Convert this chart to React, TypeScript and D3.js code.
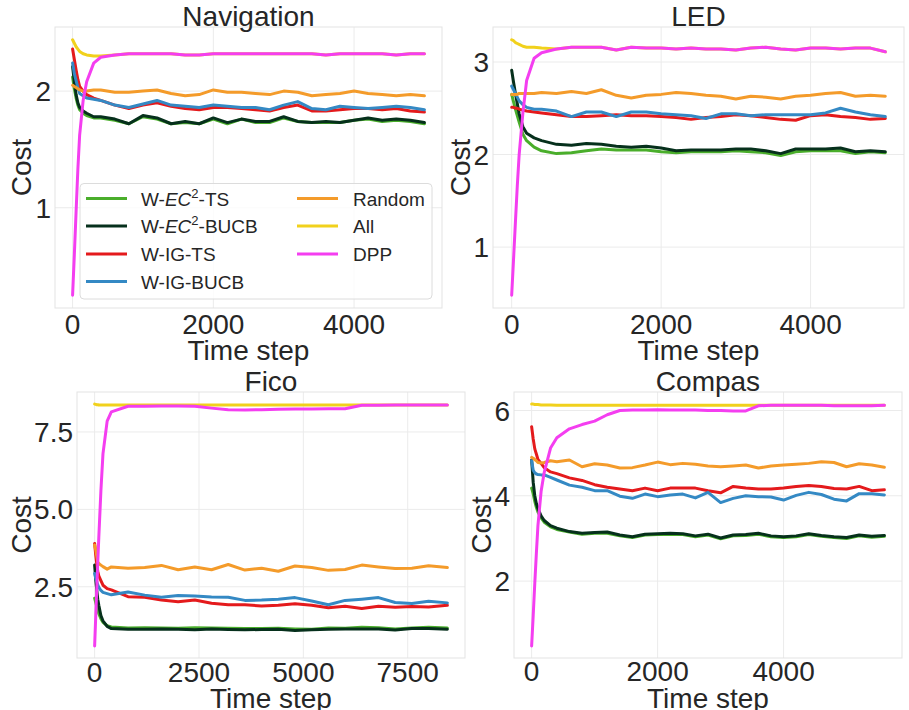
import React from "react";
import * as d3 from "d3";

// ---------- DATA ----------
const SERIES_NAMES = ["W-EC2-TS", "W-EC2-BUCB", "W-IG-TS", "W-IG-BUCB", "Random", "All", "DPP"];
const SERIES_COLORS = ["#4aae2b", "#06301c", "#e41a1c", "#3489c4", "#f49b2a", "#f1d11c", "#f43ef0"];

const PANEL_TITLES = ["Navigation", "LED", "Fico", "Compas"];

// Navigation
const NAV_T = [0,25,50,75,100,150,200,300,400,600,800,1000,1200,1400,1600,1800,2000,2200,2400,2600,2800,3000,3200,3400,3600,3800,4000,4200,4400,4600,4800,5000];
const NAV_EC2_TS = [2.12,2.02,1.94,1.88,1.84,1.81,1.79,1.77,1.77,1.75,1.72,1.78,1.76,1.72,1.73,1.72,1.76,1.72,1.76,1.73,1.73,1.77,1.74,1.73,1.73,1.73,1.75,1.76,1.74,1.75,1.74,1.72];
const NAV_EC2_BUCB = [2.21,2.08,1.97,1.90,1.86,1.83,1.81,1.78,1.78,1.76,1.72,1.79,1.77,1.72,1.74,1.72,1.77,1.73,1.76,1.74,1.74,1.78,1.74,1.73,1.74,1.73,1.75,1.77,1.75,1.76,1.75,1.73];
const NAV_IG_TS = [2.36,2.27,2.18,2.10,2.04,2.00,1.97,1.94,1.92,1.88,1.85,1.88,1.90,1.87,1.85,1.84,1.86,1.86,1.85,1.84,1.83,1.86,1.88,1.83,1.83,1.84,1.85,1.85,1.84,1.85,1.83,1.82];
const NAV_IG_BUCB = [2.24,2.15,2.09,2.03,1.98,1.96,1.94,1.93,1.92,1.88,1.86,1.89,1.92,1.88,1.87,1.86,1.88,1.87,1.86,1.86,1.84,1.88,1.91,1.85,1.84,1.87,1.86,1.85,1.86,1.87,1.86,1.84];
const NAV_RANDOM = [2.05,2.04,2.03,2.02,2.01,2.00,2.00,2.01,2.01,1.99,1.99,2.00,2.01,1.98,1.96,1.97,2.01,1.99,1.99,1.98,1.97,2.00,1.99,1.96,1.97,1.98,2.00,1.98,1.97,1.96,1.97,1.96];
const NAV_ALL = [2.44,2.41,2.38,2.36,2.34,2.32,2.31,2.30,2.30,2.31,2.32,2.32,2.32,2.32,2.31,2.31,2.32,2.32,2.32,2.32,2.32,2.32,2.32,2.32,2.31,2.32,2.32,2.32,2.32,2.31,2.32,2.32];
const NAV_DPP = [0.25,0.60,0.97,1.33,1.62,1.92,2.08,2.24,2.29,2.31,2.32,2.32,2.32,2.32,2.31,2.31,2.32,2.32,2.32,2.32,2.32,2.32,2.32,2.32,2.31,2.32,2.32,2.32,2.32,2.31,2.32,2.32];

// LED
const LED_T = [0,25,50,75,100,150,200,300,400,600,800,1000,1200,1400,1600,1800,2000,2200,2400,2600,2800,3000,3200,3400,3600,3800,4000,4200,4400,4600,4800,5000];
const LED_EC2_TS = [2.65,2.57,2.49,2.42,2.35,2.22,2.15,2.08,2.04,2.01,2.02,2.04,2.06,2.05,2.05,2.05,2.03,2.02,2.03,2.03,2.03,2.04,2.03,2.02,1.99,2.03,2.04,2.04,2.04,2.01,2.03,2.02];
const LED_EC2_BUCB = [2.91,2.78,2.66,2.55,2.44,2.30,2.23,2.18,2.15,2.11,2.10,2.12,2.11,2.09,2.08,2.09,2.07,2.04,2.05,2.05,2.05,2.06,2.06,2.04,2.01,2.06,2.06,2.06,2.07,2.03,2.04,2.03];
const LED_IG_TS = [2.51,2.51,2.50,2.50,2.49,2.48,2.47,2.46,2.45,2.43,2.41,2.41,2.42,2.43,2.42,2.42,2.41,2.40,2.38,2.40,2.41,2.43,2.42,2.40,2.38,2.37,2.42,2.43,2.41,2.40,2.38,2.39];
const LED_IG_BUCB = [2.74,2.70,2.66,2.62,2.58,2.54,2.51,2.49,2.49,2.47,2.41,2.46,2.46,2.41,2.46,2.46,2.44,2.43,2.42,2.39,2.44,2.44,2.42,2.43,2.43,2.43,2.43,2.45,2.50,2.46,2.43,2.41];
const LED_RANDOM = [2.65,2.65,2.65,2.65,2.66,2.66,2.66,2.66,2.67,2.66,2.68,2.66,2.70,2.64,2.61,2.64,2.65,2.67,2.66,2.64,2.63,2.60,2.63,2.62,2.60,2.63,2.64,2.66,2.67,2.63,2.64,2.63];
const LED_ALL = [3.24,3.23,3.21,3.20,3.19,3.17,3.16,3.16,3.15,3.14,3.16,3.16,3.16,3.13,3.16,3.15,3.15,3.14,3.15,3.14,3.14,3.13,3.15,3.16,3.14,3.13,3.15,3.15,3.14,3.15,3.15,3.11];
const LED_DPP = [0.48,0.87,1.27,1.66,2.00,2.45,2.80,3.04,3.10,3.14,3.16,3.16,3.16,3.13,3.16,3.15,3.15,3.14,3.15,3.14,3.14,3.13,3.15,3.16,3.14,3.13,3.15,3.15,3.14,3.15,3.15,3.11];

// Fico
const FICO_T = [0,25,50,75,100,150,200,300,400,800,1200,1600,2000,2400,2800,3200,3600,4000,4400,4800,5200,5600,6000,6400,6800,7200,7600,8000,8450];
const FICO_EC2_TS = [2.13,2.00,1.87,1.74,1.63,1.47,1.35,1.24,1.20,1.17,1.18,1.17,1.16,1.18,1.17,1.16,1.15,1.15,1.16,1.14,1.13,1.17,1.16,1.19,1.18,1.14,1.17,1.19,1.17];
const FICO_EC2_BUCB = [3.20,2.75,2.40,2.10,1.90,1.57,1.40,1.22,1.15,1.13,1.13,1.14,1.13,1.11,1.14,1.12,1.11,1.12,1.13,1.09,1.11,1.13,1.14,1.14,1.14,1.10,1.15,1.15,1.13];
const FICO_IG_TS = [3.90,3.55,3.25,3.00,2.85,2.70,2.55,2.44,2.40,2.18,2.16,2.07,2.02,2.07,1.97,1.92,1.92,1.88,1.90,1.95,1.90,1.82,1.87,1.80,1.87,1.84,1.86,1.85,1.90];
const FICO_IG_BUCB = [2.93,2.78,2.66,2.56,2.48,2.38,2.32,2.28,2.24,2.33,2.23,2.16,2.22,2.20,2.17,2.16,2.06,2.07,2.10,2.15,2.04,1.92,2.06,2.10,2.15,1.99,1.96,2.03,1.98];
const FICO_RANDOM = [3.85,3.70,3.50,3.30,3.25,3.20,3.15,3.07,3.14,3.10,3.12,3.19,3.05,3.14,3.05,3.22,3.04,3.10,3.00,3.17,3.12,3.03,3.06,3.20,3.14,3.09,3.10,3.18,3.12];
const FICO_ALL = [8.40,8.39,8.38,8.38,8.37,8.37,8.37,8.37,8.37,8.37,8.37,8.37,8.37,8.37,8.37,8.37,8.37,8.37,8.37,8.37,8.37,8.37,8.37,8.37,8.37,8.37,8.37,8.37,8.37];
const FICO_DPP = [0.59,1.50,2.40,3.30,4.10,5.60,6.80,7.85,8.15,8.33,8.33,8.34,8.34,8.33,8.27,8.22,8.21,8.22,8.23,8.24,8.24,8.25,8.25,8.36,8.36,8.37,8.37,8.37,8.37];

// Compas
const COMPAS_T = [0,25,50,75,100,150,200,300,400,600,800,1000,1200,1400,1600,1800,2000,2200,2400,2600,2800,3000,3200,3400,3600,3800,4000,4200,4400,4600,4800,5000,5200,5400,5600];
const COMPAS_EC2_TS = [4.18,4.05,3.87,3.73,3.62,3.48,3.38,3.27,3.21,3.15,3.10,3.12,3.12,3.06,3.02,3.08,3.09,3.10,3.09,3.04,3.08,2.99,3.06,3.07,3.10,3.04,3.02,3.04,3.09,3.05,3.02,3.00,3.06,3.03,3.05];
const COMPAS_EC2_BUCB = [4.84,4.32,4.00,3.82,3.70,3.53,3.42,3.30,3.24,3.16,3.12,3.14,3.15,3.08,3.04,3.10,3.11,3.12,3.11,3.06,3.10,3.01,3.08,3.09,3.12,3.06,3.04,3.06,3.11,3.07,3.04,3.02,3.08,3.05,3.07];
const COMPAS_IG_TS = [5.62,5.33,5.10,4.98,4.85,4.76,4.66,4.56,4.52,4.42,4.36,4.26,4.20,4.16,4.12,4.18,4.12,4.18,4.18,4.18,4.12,4.07,4.22,4.18,4.16,4.16,4.18,4.22,4.24,4.22,4.17,4.16,4.22,4.12,4.14];
const COMPAS_IG_BUCB = [4.82,4.60,4.54,4.51,4.50,4.49,4.49,4.43,4.37,4.25,4.20,4.12,4.12,3.99,3.94,4.04,3.98,4.02,4.04,3.95,4.08,3.84,3.94,4.00,3.98,3.97,3.90,4.01,4.08,4.03,3.92,3.88,4.05,4.05,4.02];
const COMPAS_RANDOM = [4.90,4.88,4.85,4.82,4.78,4.77,4.78,4.82,4.80,4.84,4.68,4.75,4.72,4.65,4.66,4.72,4.79,4.73,4.76,4.74,4.70,4.68,4.70,4.72,4.65,4.70,4.72,4.74,4.76,4.80,4.78,4.68,4.75,4.72,4.67];
const COMPAS_ALL = [6.15,6.15,6.14,6.14,6.14,6.13,6.13,6.13,6.12,6.12,6.12,6.12,6.12,6.12,6.12,6.12,6.12,6.12,6.12,6.12,6.12,6.12,6.12,6.12,6.12,6.12,6.12,6.12,6.12,6.12,6.12,6.12,6.12,6.12,6.12];
const COMPAS_DPP = [0.48,1.20,1.95,2.65,3.30,4.10,4.55,5.12,5.36,5.57,5.67,5.75,5.90,6.00,6.01,6.01,6.02,6.01,6.01,6.01,6.00,6.00,5.99,5.99,6.11,6.12,6.12,6.12,6.12,6.12,6.11,6.11,6.11,6.11,6.12];

const NAV_X_TICKS = [0, 2000, 4000];
const NAV_Y_TICKS = [1, 2];
const LED_X_TICKS = [0, 2000, 4000];
const LED_Y_TICKS = [1, 2, 3];
const FICO_X_TICKS = [0, 2500, 5000, 7500];
const FICO_Y_TICKS = [2.5, 5.0, 7.5];
const COMPAS_X_TICKS = [0, 2000, 4000];
const COMPAS_Y_TICKS = [2, 4, 6];

// ---------- LAYOUT ----------
const W = 909;
const H = 710;
const FONT = "'Liberation Sans', Arial, Helvetica, sans-serif";
const TEXT = "#262626";
const GRID = "#ebebeb";
const SPINE = "#e3e3e3";

type Panel = {
  title: string;
  t: number[];
  series: number[][];
  xTicks: number[];
  yTicks: number[];
  yFmt: (v: number) => string;
  box: { x0: number; x1: number; y0: number; y1: number };
  xLabelY: number;
  xTickY: number;
  yLabelX: number;
  legend?: boolean;
};

const PANELS: Panel[] = [
  {
    title: PANEL_TITLES[0], t: NAV_T,
    series: [NAV_EC2_TS, NAV_EC2_BUCB, NAV_IG_TS, NAV_IG_BUCB, NAV_RANDOM, NAV_ALL, NAV_DPP],
    xTicks: NAV_X_TICKS, yTicks: NAV_Y_TICKS, yFmt: (v) => String(v),
    box: { x0: 55, x1: 442, y0: 27, y1: 308 }, xTickY: 334, xLabelY: 360, yLabelX: 31, legend: true,
  },
  {
    title: PANEL_TITLES[1], t: LED_T,
    series: [LED_EC2_TS, LED_EC2_BUCB, LED_IG_TS, LED_IG_BUCB, LED_RANDOM, LED_ALL, LED_DPP],
    xTicks: LED_X_TICKS, yTicks: LED_Y_TICKS, yFmt: (v) => String(v),
    box: { x0: 493, x1: 904, y0: 27, y1: 308 }, xTickY: 334, xLabelY: 360, yLabelX: 470,
  },
  {
    title: PANEL_TITLES[2], t: FICO_T,
    series: [FICO_EC2_TS, FICO_EC2_BUCB, FICO_IG_TS, FICO_IG_BUCB, FICO_RANDOM, FICO_ALL, FICO_DPP],
    xTicks: FICO_X_TICKS, yTicks: FICO_Y_TICKS, yFmt: (v) => v.toFixed(1),
    box: { x0: 77, x1: 465, y0: 392, y1: 658 }, xTickY: 682, xLabelY: 708, yLabelX: 31,
  },
  {
    title: PANEL_TITLES[3], t: COMPAS_T,
    series: [COMPAS_EC2_TS, COMPAS_EC2_BUCB, COMPAS_IG_TS, COMPAS_IG_BUCB, COMPAS_RANDOM, COMPAS_ALL, COMPAS_DPP],
    xTicks: COMPAS_X_TICKS, yTicks: COMPAS_Y_TICKS, yFmt: (v) => String(v),
    box: { x0: 514, x1: 902, y0: 392, y1: 658 }, xTickY: 681, xLabelY: 708, yLabelX: 491,
  },
];

function LegendLabel({ name, x, y }: { name: string; x: number; y: number }) {
  if (name.startsWith("W-EC2")) {
    const rest = name.slice(5);
    return (
      <text x={x} y={y} fontSize={19} fill={TEXT} fontFamily={FONT}>
        <tspan>W-</tspan>
        <tspan fontStyle="italic">EC</tspan>
        <tspan fontSize={13} dy={-8}>2</tspan>
        <tspan dy={8}>{rest}</tspan>
      </text>
    );
  }
  return (
    <text x={x} y={y} fontSize={19} fill={TEXT} fontFamily={FONT}>
      {name}
    </text>
  );
}

function Legend() {
  const rows = [198.5, 226, 254, 281.5];
  const items = SERIES_NAMES.map((name, i) => {
    const col = i < 4 ? 0 : 1;
    const row = i < 4 ? i : i - 4;
    const hx = col === 0 ? 86 : 297;
    const tx = col === 0 ? 141 : 353;
    const y = rows[row];
    return (
      <g key={name}>
        <line x1={hx} x2={hx + 41} y1={y} y2={y} stroke={SERIES_COLORS[i]} strokeWidth={3} />
        <LegendLabel name={name} x={tx} y={y + 7} />
      </g>
    );
  });
  return (
    <g>
      <rect x={80} y={183.5} width={352} height={115.5} rx={4} fill="#ffffff" fillOpacity={0.8} stroke="#dcdcdc" strokeWidth={1} />
      {items}
    </g>
  );
}

function PanelView({ p }: { p: Panel }) {
  const { x0, x1, y0, y1 } = p.box;
  const tMax = d3.max(p.t) as number;
  const tMin = d3.min(p.t) as number;
  const tPad = (tMax - tMin) * 0.05;
  const all = p.series.flat();
  const vMin = d3.min(all) as number;
  const vMax = d3.max(all) as number;
  const vPad = (vMax - vMin) * 0.05;
  const xs = d3.scaleLinear().domain([tMin - tPad, tMax + tPad]).range([x0, x1]);
  const ys = d3.scaleLinear().domain([vMin - vPad, vMax + vPad]).range([y1, y0]);
  const line = d3
    .line<number>()
    .x((_, i) => xs(p.t[i]))
    .y((d) => ys(d));
  const cx = (x0 + x1) / 2;
  const cy = (y0 + y1) / 2;
  return (
    <g>
      {p.xTicks.map((t) => (
        <line key={"gx" + t} x1={xs(t)} x2={xs(t)} y1={y0} y2={y1} stroke={GRID} strokeWidth={1} />
      ))}
      {p.yTicks.map((t) => (
        <line key={"gy" + t} x1={x0} x2={x1} y1={ys(t)} y2={ys(t)} stroke={GRID} strokeWidth={1} />
      ))}
      <rect x={x0} y={y0} width={x1 - x0} height={y1 - y0} fill="none" stroke={SPINE} strokeWidth={1} />
      {p.series.map((s, i) => (
        <path key={i} d={line(s) || ""} fill="none" stroke={SERIES_COLORS[i]} strokeWidth={3} strokeLinejoin="round" strokeLinecap="round" />
      ))}
      {p.xTicks.map((t) => (
        <text key={"tx" + t} x={xs(t)} y={p.xTickY} textAnchor="middle" fontSize={28} fill={TEXT} fontFamily={FONT}>
          {String(t)}
        </text>
      ))}
      {p.yTicks.map((t) => (
        <text key={"ty" + t} x={x0 - 4} y={ys(t)} dy="0.36em" textAnchor="end" fontSize={28} fill={TEXT} fontFamily={FONT}>
          {p.yFmt(t)}
        </text>
      ))}
      <text x={cx} y={y0 - 1} textAnchor="middle" fontSize={28} fill={TEXT} fontFamily={FONT}>
        {p.title}
      </text>
      <text x={cx} y={p.xLabelY} textAnchor="middle" fontSize={28} fill={TEXT} fontFamily={FONT}>
        Time step
      </text>
      <text
        transform={`translate(${p.yLabelX},${cy}) rotate(-90)`}
        textAnchor="middle"
        fontSize={28}
        fill={TEXT}
        fontFamily={FONT}
      >
        Cost
      </text>
      {p.legend ? <Legend /> : null}
    </g>
  );
}

export default function App() {
  return (
    <svg
      width={W}
      height={H}
      viewBox={`0 0 ${W} ${H}`}
      style={{ position: "absolute", left: 0, top: 0, display: "block", background: "#ffffff" }}
    >
      <rect x={0} y={0} width={W} height={H} fill="#ffffff" />
      {PANELS.map((p) => (
        <PanelView key={p.title} p={p} />
      ))}
    </svg>
  );
}
